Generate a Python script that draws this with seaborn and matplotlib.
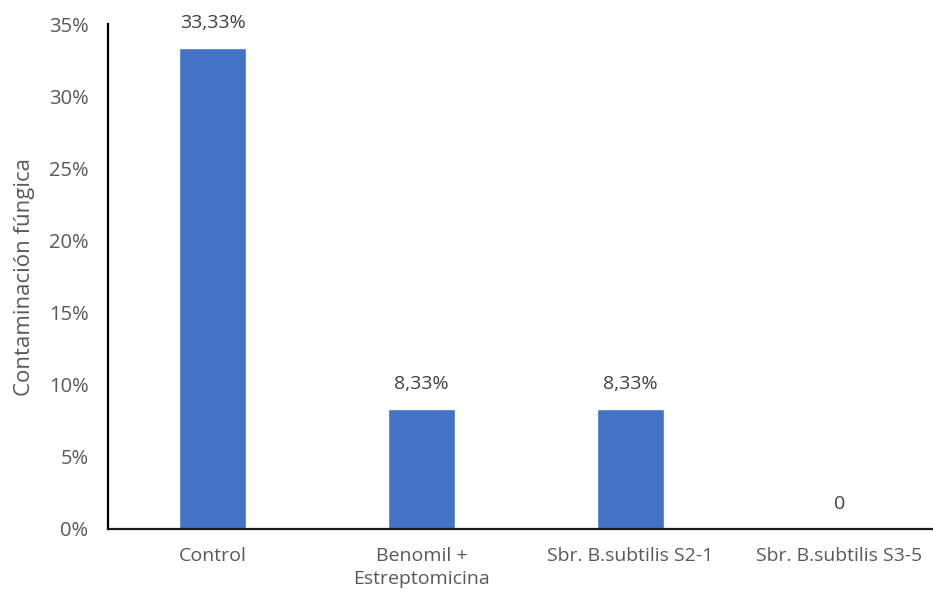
import matplotlib
matplotlib.use("Agg")
import matplotlib.pyplot as plt
import seaborn as sns
import pandas as pd

categories = ["Control", "Benomil +\nEstreptomicina", "Sbr. B.subtilis S2-1", "Sbr. B.subtilis S3-5"]
values = [0.3333, 0.0833, 0.0833, 0.0]
labels = ["33,33%", "8,33%", "8,33%", "0"]
yticks = [0, 0.05, 0.10, 0.15, 0.20, 0.25, 0.30, 0.35]
ytick_labels = ["0%", "5%", "10%", "15%", "20%", "25%", "30%", "35%"]

sns.set_theme(style="white")
plt.rcParams['font.family'] = ['Open Sans', 'DejaVu Sans']

df = pd.DataFrame({"cat": categories, "val": values})

fig = plt.figure(figsize=(9.33, 6.01), dpi=100)
ax = fig.add_axes([108/933, 1-529/601, (944-108)/933, (529-24)/601])
sns.barplot(data=df, x="cat", y="val", color="#4472C4", width=0.32, saturation=1, ax=ax)

for i, (v, t) in enumerate(zip(values, labels)):
    ax.text(i, v + 0.011, t, ha="center", va="bottom", fontsize=14, color="#404040")

ax.set_ylim(0, 0.35)
ax.set_xlim(-0.5, 3.5)
ax.set_yticks(yticks)
ax.set_yticklabels(ytick_labels, fontsize=14.5, color="#595959")
ax.tick_params(axis="x", labelsize=14, colors="#595959", length=0, pad=13)
ax.tick_params(axis="y", length=0, pad=14)
for lbl in ax.get_xticklabels():
    lbl.set_linespacing(1.35)
ax.set_xlabel("")
ax.set_ylabel("Contaminación fúngica", fontsize=16, color="#595959", labelpad=10)
for s in ["top", "right"]:
    ax.spines[s].set_visible(False)
ax.spines["left"].set_color("black")
ax.spines["left"].set_linewidth(1.6)
ax.spines["bottom"].set_color("#1a1a1a")
ax.spines["bottom"].set_linewidth(1.6)

fig.savefig("out.png", dpi=100)
